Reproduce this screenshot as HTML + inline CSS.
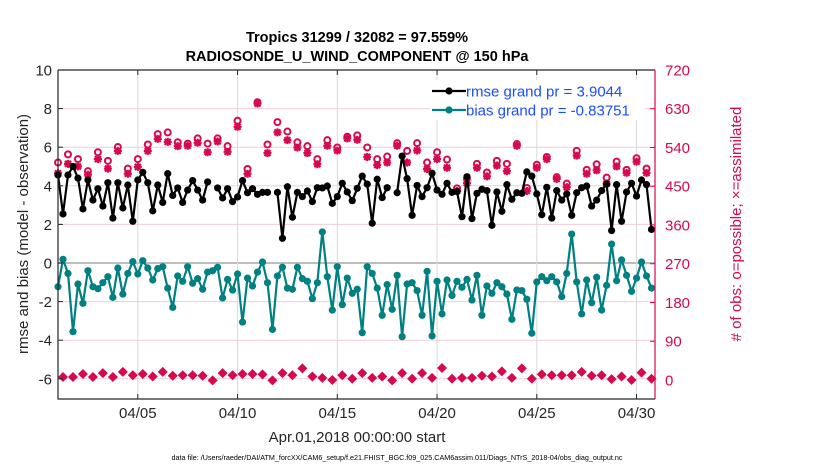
<!DOCTYPE html>
<html><head><meta charset="utf-8"><style>
html,body{margin:0;padding:0;background:#fff;}
svg{display:block;font-family:"Liberation Sans",Arial,sans-serif;}
</style></head><body>
<svg id="chart" width="830" height="470" viewBox="0 0 830 470" xmlns="http://www.w3.org/2000/svg">
<g id="grid"></g>
<g id="marks"></g>
<g id="axes"></g>
<text x="357" y="42" text-anchor="middle" font-size="14.5" font-weight="bold" fill="#000">Tropics 31299 / 32082 = 97.559%</text>
<text x="357" y="61" text-anchor="middle" font-size="14.5" font-weight="bold" fill="#000">RADIOSONDE_U_WIND_COMPONENT @ 150 hPa</text>
<text x="357" y="442" text-anchor="middle" font-size="15" fill="#262626">Apr.01,2018 00:00:00 start</text>
<text x="397" y="460" text-anchor="middle" font-size="7.2" fill="#000">data file: /Users/raeder/DAI/ATM_forcXX/CAM6_setup/f.e21.FHIST_BGC.f09_025.CAM6assim.011/Diags_NTrS_2018-04/obs_diag_output.nc</text>
<text transform="translate(28,234) rotate(-90)" text-anchor="middle" font-size="15" fill="#262626">rmse and bias (model - observation)</text>
<text transform="translate(741,224) rotate(-90)" text-anchor="middle" font-size="15" fill="#d6084f"># of obs: o=possible; ×=assimilated</text>
<g id="legend"></g>
</svg>
<script>
const rmse=[4.56,2.54,4.56,5.0,4.4,2.8,4.3,3.26,3.85,2.95,4.16,2.33,4.16,2.85,4.04,2.16,4.3,4.7,4.16,2.7,4.04,3.14,4.63,3.5,3.89,3.14,3.78,4.27,3.78,3.26,4.2,null,3.89,3.37,3.85,3.18,3.42,4.27,3.64,3.85,3.56,
3.66,3.66,null,3.66,1.28,3.95,2.37,3.66,3.44,3.73,3.18,3.9,3.89,3.99,3.09,3.44,4.13,3.68,3.23,3.87,4.5,4.09,2.06,4.34,3.39,3.9,null,3.64,5.54,4.37,2.47,4.02,3.44,3.9,4.65,3.78,3.56,4.13,3.66,
3.7,2.4,4.47,2.3,3.61,3.82,3.75,1.95,3.68,2.68,4.06,3.3,3.64,3.61,4.72,4.5,3.58,2.5,3.92,2.33,3.75,3.26,3.58,2.47,3.64,3.9,3.99,2.95,3.26,3.75,4.09,1.68,4.06,2.16,3.68,4.13,3.47,4.3,4.06,1.74];
const bias=[-1.23,0.19,-0.54,-3.56,-1.09,-2.09,-0.4,-1.23,-1.33,-1.02,-0.71,-1.78,-0.26,-1.61,-0.54,0.07,-0.57,0.12,-0.26,-0.88,-0.29,-0.19,-1.3,-2.3,-0.67,-0.95,-0.19,-1.05,-0.81,-1.36,-0.47,-0.4,-0.22,-1.81,-0.85,-1.4,-0.57,-3.06,-0.78,-1.19,-0.47,
0.05,-1.02,-3.44,-0.67,-0.22,-1.3,-1.36,-0.22,-0.81,-0.95,-1.85,-1.02,1.61,-0.71,-2.44,-0.19,-2.16,-0.78,-1.57,-1.36,-3.61,-0.19,-0.54,-1.3,-2.71,-1.12,-2.4,-0.64,-3.82,-1.09,-1.02,-1.43,-2.71,-0.43,-3.78,-0.95,-2.64,-0.88,-1.68,
-0.95,-1.26,-0.85,-1.92,-0.64,-2.71,-1.19,-1.57,-1.02,-1.23,-1.61,-2.92,-1.4,-1.43,-1.88,-3.64,-0.98,-0.71,-0.92,-0.71,-0.98,-1.74,-0.54,1.5,-0.98,-2.64,-0.88,-2.06,-0.74,-2.44,-1.16,0.98,-0.92,0.16,-0.64,-1.47,-0.78,0.05,-0.67,-1.3];
const nPossible=[505,524,513,485,529,509,541,491,513,547,571,575,552,549,561,549,561,543,602,490,645,
547,599,577,552,543,513,557,540,565,568,540,513,519,550,532,550,505,529,512,445,
467,502,482,509,502,548,446,500,518,471,456,532,488,501,470,507,488,515,491];
const nAssim=[480,502,496,477,513,491,532,479,495,532,560,553,543,544,551,529,554,530,588,479,642,
527,575,557,540,527,501,544,533,561,558,518,499,505,544,505,533,490,513,493,439,
457,493,473,498,485,544,439,493,513,467,448,521,479,487,456,496,481,507,481];
const nOther=[7,7,14,7,16,7,19,11,14,8,19,10,11,11,10,-1,16,11,14,14,
13,-1,16,11,27,8,5,0,11,3,16,5,8,-1,16,3,16,5,28,3,
5,5,10,8,20,5,27,3,13,11,11,11,19,10,11,2,8,0,17,3];
const xTickDays=[4,9,14,19,24,29];
const xTickLabels=["04/05","04/10","04/15","04/20","04/25","04/30"];
const yTicksLeft=[10,8,6,4,2,0,-2,-4,-6];
const yTicksRight=[720,630,540,450,360,270,180,90,0];

const NS="http://www.w3.org/2000/svg";
const X0=58,X1=655,Y0=70,Y1=399;
const xDay=d=>X0+d*19.95;
const xIdx=k=>xDay(k*0.25);
const yL=v=>263-v*19.3;
const yR=v=>380-v*0.4306;
function mk(tag,attrs,parent){const e=document.createElementNS(NS,tag);for(const k in attrs)e.setAttribute(k,attrs[k]);parent.appendChild(e);return e;}
const grid=document.getElementById('grid'),marks=document.getElementById('marks'),axes=document.getElementById('axes'),legend=document.getElementById('legend');
const MAG="#d6084f",TEAL="#008080";

yTicksLeft.forEach(v=>{
  const y=yL(v);
  const l=mk('line',{x1:X0,x2:X1,y1:y,y2:y,stroke:v===0?'#bdbdbd':'#f5cbd9','stroke-width':v===0?2:1},grid);
  
  
  const t=mk('line',{x1:X0,x2:X0+5,y1:y,y2:y,stroke:'#262626'},axes);
  
  
  const tx=mk('text',{x:X0-6,y:y+5.5,'text-anchor':'end','font-size':15,fill:'#262626'},axes);
  tx.textContent=v;
  
  
});
yTicksRight.forEach(v=>{
  const y=yR(v);
  const t=mk('line',{x1:X1-5,x2:X1,y1:y,y2:y,stroke:MAG},axes);
  
  
  const tx=mk('text',{x:X1+10,y:y+5.5,'text-anchor':'start','font-size':15,fill:MAG},axes);
  tx.textContent=v;
  
  
});
xTickDays.forEach((d,i)=>{
  const x=xDay(d);
  const g=mk('line',{x1:x,x2:x,y1:Y0,y2:Y1,stroke:'#d9d9d9'},grid);
  
  
  const t=mk('line',{x1:x,x2:x,y1:Y1-5,y2:Y1,stroke:'#262626'},axes);
  
  
  const t2=mk('line',{x1:x,x2:x,y1:Y0,y2:Y0+5,stroke:'#262626'},axes);
  
  
  const tx=mk('text',{x:x,y:418,'text-anchor':'middle','font-size':15,fill:'#262626'},axes);
  tx.textContent=xTickLabels[i];
  
  
});
const fr=mk('path',{d:`M${X0},${Y0}H${X1}M${X0},${Y0}V${Y1}H${X1}`,stroke:'#262626','stroke-width':1.2,fill:'none'},axes);


const ra=mk('line',{x1:X1,x2:X1,y1:Y0,y2:Y1,stroke:MAG,'stroke-width':1.2},axes);



function star(x,y,parent,name){
  const g=mk('g',{stroke:MAG,'stroke-width':2.2},parent);
  
  
  mk('path',{d:`M${x-4},${y}H${x+4}M${x},${y-4}V${y+4}M${x-3},${y-3}L${x+3},${y+3}M${x-3},${y+3}L${x+3},${y-3}`},g);
}
nPossible.forEach((v,i)=>{
  const c=mk('circle',{cx:xIdx(i*2),cy:yR(v),r:3,fill:'#fff',stroke:MAG,'stroke-width':2},marks);
  
  
});
nAssim.forEach((v,i)=>star(xIdx(i*2),yR(v),marks,'assimilated-obs-marker'));
nOther.forEach((v,i)=>{
  const x=xIdx(i*2+1),y=yR(v);
  const d=mk('path',{d:`M${x},${y-5}L${x+5},${y}L${x},${y+5}L${x-5},${y}Z`,fill:MAG},marks);
  
  
});
function series(arr,color,name){
  let d='',pen=false;
  arr.forEach((v,i)=>{if(v===null){pen=false;return;}d+=(pen?'L':'M')+xIdx(i).toFixed(1)+','+yL(v).toFixed(1);pen=true;});
  const p=mk('path',{d:d,stroke:color,'stroke-width':2.2,fill:'none','stroke-linejoin':'round'},marks);
  
  
  arr.forEach((v,i)=>{if(v===null)return;
    const c=mk('circle',{cx:xIdx(i),cy:yL(v),r:3.6,fill:color},marks);
    
    
  });
}
series(bias,TEAL,'bias');
series(rmse,'#000','rmse');

const lbg=mk('rect',{x:430,y:80,width:215,height:40,fill:'#fff'},legend);


[['#000','rmse grand pr = 3.9044',91,'legend-entry-rmse'],[TEAL,'bias grand pr = -0.83751',110,'legend-entry-bias']].forEach(e=>{
  const g=mk('g',{},legend);
  
  
  mk('line',{x1:432,x2:466,y1:e[2],y2:e[2],stroke:e[0],'stroke-width':2.2},g);
  mk('circle',{cx:449,cy:e[2],r:3.6,fill:e[0]},g);
  const t=mk('text',{x:466,y:e[2]+5.5,'font-size':15,fill:'#1a4dff'},g);
  t.textContent=e[1];
});
</script>
</body></html>
